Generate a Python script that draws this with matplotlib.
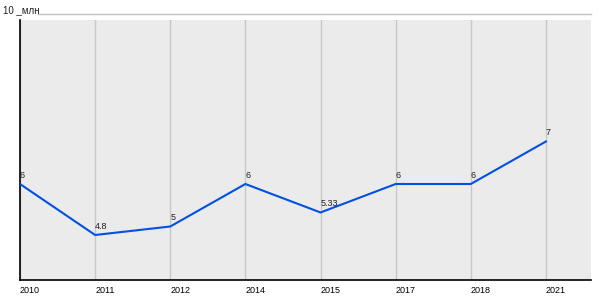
import matplotlib
matplotlib.use('Agg')
import matplotlib.pyplot as plt
from matplotlib.lines import Line2D

matplotlib.rcParams['font.family'] = ['Liberation Sans', 'DejaVu Sans']

years = ['2010', '2011', '2012', '2014', '2015', '2017', '2018', '2021']
values = [6, 4.8, 5, 6, 5.33, 6, 6, 7]
labels = ['6', '4.8', '5', '6', '5.33', '6', '6', '7']
y_max = 10
unit = '_млн'

fig = plt.figure(figsize=(6, 3), dpi=100)
ax = fig.add_axes([20 / 600, 20 / 300, 571 / 600, 260 / 300])
ax.set_facecolor('#ebebeb')

x = list(range(len(years)))
ax.plot(x, values, color='#0050e6', linewidth=1.5, zorder=3)
for xi, v, lab in zip(x, values, labels):
    ax.annotate(lab, (xi, v), xytext=(0, 3), textcoords='offset points',
                ha='left', va='bottom', fontsize=6.5, color='#222222')

ax.set_xlim(0, 7.6)
ax.set_ylim(3.741, 9.859)
ax.set_xticks(x)
ax.set_xticklabels(years, ha='left', fontsize=6.5)
ax.tick_params(axis='x', length=0, pad=4)
ax.set_yticks([])
ax.grid(axis='x', color='#c8c8c8', linewidth=1)
ax.set_axisbelow(True)
for s in ['top', 'right']:
    ax.spines[s].set_visible(False)
for s in ['left', 'bottom']:
    ax.spines[s].set_color('black')
    ax.spines[s].set_linewidth(1.2)

# top reference line for the max value
fig.add_artist(Line2D([38 / 600, 591 / 600], [286 / 300, 286 / 300],
                      color='#c0c0c0', linewidth=1))
fig.text(3 / 600, 286.5 / 300, f'{y_max} {unit}', fontsize=7, ha='left',
         va='baseline', color='#222222')

fig.savefig('out.png', dpi=100)
